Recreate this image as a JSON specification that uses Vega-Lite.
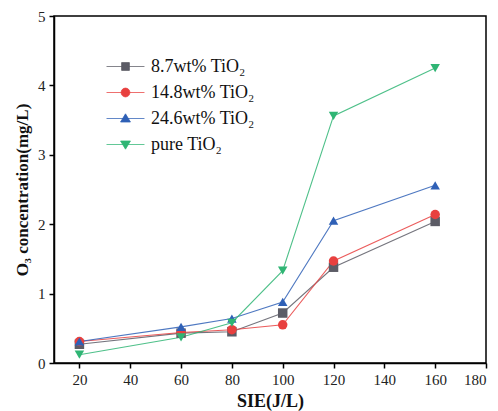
{
  "$schema": "https://vega.github.io/schema/vega-lite/v6.json",
  "width": 432,
  "height": 347,
  "autosize": "none",
  "padding": {"left": 54, "top": 16, "right": 12, "bottom": 48},
  "background": "white",
  "config": {
    "font": "Liberation Serif",
    "view": {"stroke": "black", "strokeWidth": 1.5},
    "axis": {
      "domainColor": "black", "domainWidth": 1.5, "tickColor": "black", "tickWidth": 1.5, "tickSize": 5,
      "labelFont": "Liberation Serif", "labelFontSize": 15, "labelColor": "#222",
      "titleFont": "Liberation Serif", "titleFontSize": 17, "titleFontWeight": "bold", "titleColor": "#111",
      "grid": false
    }
  },
  "data": {"values": [
    {"series": "8.7wt% TiO₂", "sie": 20, "o3": 0.27},
    {"series": "8.7wt% TiO₂", "sie": 60, "o3": 0.43},
    {"series": "8.7wt% TiO₂", "sie": 80, "o3": 0.45},
    {"series": "8.7wt% TiO₂", "sie": 100, "o3": 0.72},
    {"series": "8.7wt% TiO₂", "sie": 120, "o3": 1.38},
    {"series": "8.7wt% TiO₂", "sie": 160, "o3": 2.04},
    {"series": "14.8wt% TiO₂", "sie": 20, "o3": 0.31},
    {"series": "14.8wt% TiO₂", "sie": 60, "o3": 0.44},
    {"series": "14.8wt% TiO₂", "sie": 80, "o3": 0.48},
    {"series": "14.8wt% TiO₂", "sie": 100, "o3": 0.55},
    {"series": "14.8wt% TiO₂", "sie": 120, "o3": 1.47},
    {"series": "14.8wt% TiO₂", "sie": 160, "o3": 2.14},
    {"series": "24.6wt% TiO₂", "sie": 20, "o3": 0.31},
    {"series": "24.6wt% TiO₂", "sie": 60, "o3": 0.52},
    {"series": "24.6wt% TiO₂", "sie": 80, "o3": 0.64},
    {"series": "24.6wt% TiO₂", "sie": 100, "o3": 0.88},
    {"series": "24.6wt% TiO₂", "sie": 120, "o3": 2.05},
    {"series": "24.6wt% TiO₂", "sie": 160, "o3": 2.56},
    {"series": "pure TiO₂", "sie": 20, "o3": 0.12},
    {"series": "pure TiO₂", "sie": 60, "o3": 0.37},
    {"series": "pure TiO₂", "sie": 80, "o3": 0.58},
    {"series": "pure TiO₂", "sie": 100, "o3": 1.33},
    {"series": "pure TiO₂", "sie": 120, "o3": 3.56},
    {"series": "pure TiO₂", "sie": 160, "o3": 4.25}
  ]},
  "encoding": {
    "x": {"field": "sie", "type": "quantitative", "title": "SIE(J/L)",
      "scale": {"domain": [10, 180], "nice": false, "zero": false},
      "axis": {"values": [20, 40, 60, 80, 100, 120, 140, 160, 180], "labelPadding": 4, "titlePadding": 5, "titleFontSize": 18}},
    "y": {"field": "o3", "type": "quantitative", "title": "O₃ concentration(mg/L)",
      "scale": {"domain": [0, 5], "nice": false},
      "axis": {"values": [0, 1, 2, 3, 4, 5], "labelPadding": 4, "titlePadding": 6}},
    "color": {"field": "series", "type": "nominal",
      "scale": {"domain": ["8.7wt% TiO₂", "14.8wt% TiO₂", "24.6wt% TiO₂", "pure TiO₂"],
                "range": ["#5c5c66", "#e8403f", "#2f60b6", "#2fb574"]},
      "legend": {
        "title": null, "orient": "none", "legendX": 58, "legendY": 37, "padding": 0,
        "rowPadding": 3, "symbolSize": 676, "labelOffset": 12, "labelFontSize": 18,
        "labelFont": "Liberation Serif", "labelColor": "#111", "symbolStrokeWidth": 1,
        "encode": {"symbols": {"update": {
          "shape": {"signal": "datum.value === '8.7wt% TiO₂' ? 'M-1.46,0H1.46M-0.3,-0.3H0.3V0.3H-0.3Z' : datum.value === '14.8wt% TiO₂' ? 'M-1.46,0H1.46M-0.34,0A0.34,0.34,0,1,0,0.34,0A0.34,0.34,0,1,0,-0.34,0Z' : datum.value === '24.6wt% TiO₂' ? 'M-1.46,0H1.46M0,-0.36L0.38,0.27L-0.38,0.27Z' : 'M-1.46,0H1.46M0,0.36L0.38,-0.27L-0.38,-0.27Z'"},
          "size": {"value": 676},
          "stroke": {"scale": "color", "field": "value"},
          "fill": {"scale": "color", "field": "value"},
          "strokeWidth": {"value": 1},
          "strokeOpacity": {"value": 0.75},
          "opacity": {"value": 1}
        }}}
      }}
  },
  "layer": [
    {"mark": {"type": "line", "strokeWidth": 1.1, "strokeOpacity": 0.85}},
    {"mark": {"type": "point", "filled": true, "opacity": 1, "size": 90},
     "encoding": {"shape": {
       "condition": [
         {"test": "datum.series === '8.7wt% TiO₂'", "value": "square"},
         {"test": "datum.series === '14.8wt% TiO₂'", "value": "circle"},
         {"test": "datum.series === '24.6wt% TiO₂'", "value": "triangle-up"}
       ],
       "value": "triangle-down"}}}
  ]
}
